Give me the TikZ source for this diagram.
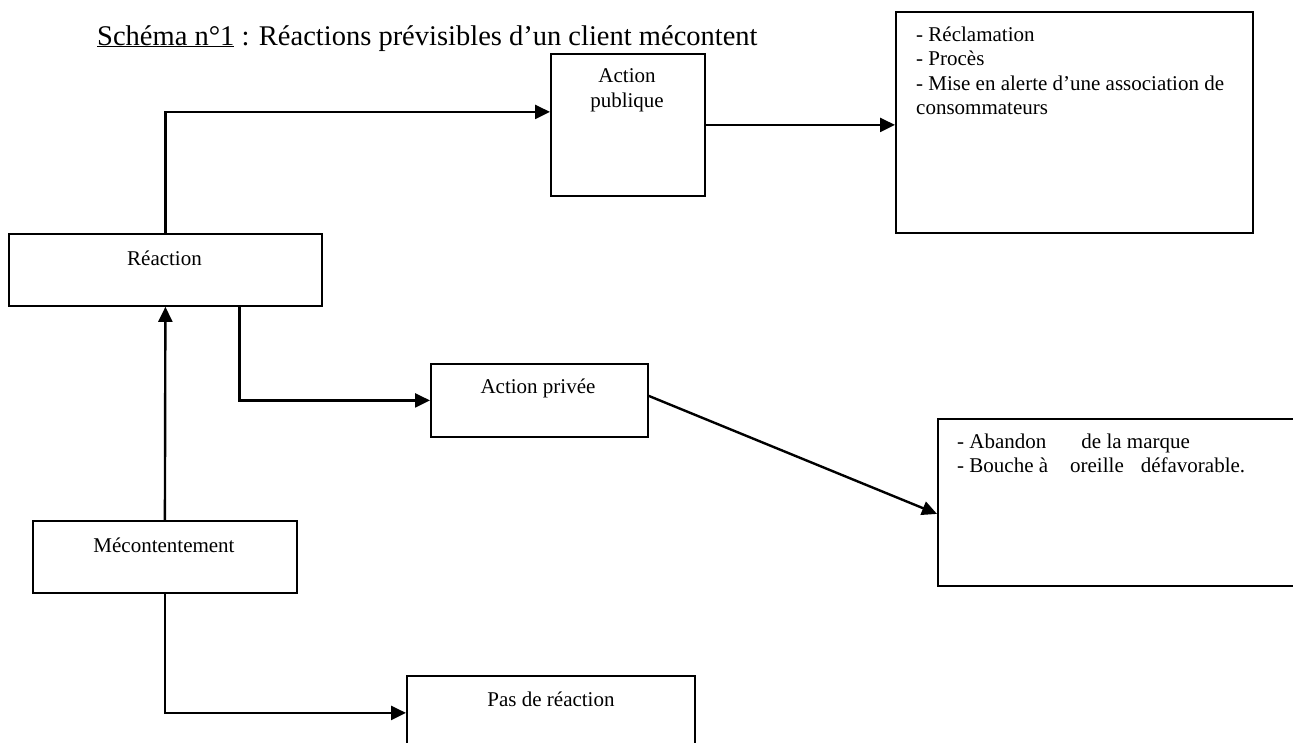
\documentclass[tikz,border=0pt]{standalone}
\usepackage{fontspec}
\setmainfont{Liberation Serif}
\usetikzlibrary{arrows.meta}
\tikzset{
  box/.style={draw, line width=1.8pt, inner sep=0pt, anchor=north west},
  txt/.style={inner sep=0pt, anchor=base, font=\fontsize{21}{25}\selectfont},
  txtl/.style={inner sep=0pt, anchor=base west, font=\fontsize{21}{24.5}\selectfont},
  arr/.style={line width=2.4pt, -{Triangle[length=15pt,width=14pt]}}
}
\begin{document}
\begin{tikzpicture}[x=1pt,y=-1pt]
\useasboundingbox (0,0) rectangle (1293,742);
% title
\node (title) [inner sep=0pt, anchor=base west, font=\fontsize{28.5}{32}\selectfont] at (97,45)
  {\underline{Schéma n°1} : Réactions prévisibles d’un client mécontent};
% boxes
\node (reac)  [box, minimum width=313pt, minimum height=72pt]  at (8,233) {};
\node (mec)   [box, minimum width=264pt, minimum height=72pt]  at (32,520) {};
\node (apub)  [box, minimum width=154pt, minimum height=142pt] at (550,53) {};
\node (apriv) [box, minimum width=217pt, minimum height=73pt]  at (430,363) {};
\node (pas)   [box, minimum width=288pt, minimum height=74pt]  at (406,675) {};
\node (tr)    [box, minimum width=357pt, minimum height=221pt] at (895,11) {};
\node (rm)    [box, minimum width=373pt, minimum height=167pt] at (937,418) {};
% texts
\node (reacT)  [txt] at (164.5,265) {Réaction};
\node (mecT)   [txt] at (164,552) {Mécontentement};
\node (apubT)  [txt] at (627,82) {\begin{tabular}[t]{@{}c@{}}Action\\publique\end{tabular}};
\node (aprivT) [txt] at (538,393) {Action privée};
\node (pasT)   [txt] at (551,706) {Pas de réaction};
\node (trT)    [txtl] at (916,41) {\begin{tabular}[t]{@{}l@{}}- Réclamation\\- Procès\\- Mise en alerte d’une association de\\consommateurs\end{tabular}};
\node (rmT)    [txtl] at (957,448) {\begin{tabular}[t]{@{}l@{}}- Abandon\hspace{35pt}de la marque\\- Bouche à\hspace{22pt}oreille\hspace{17pt}défavorable.\end{tabular}};
% connectors
\draw[arr] (mec.north) -- (reac.south);
\draw[arr] (reac.north) |- ([yshift=13pt]apub.west);
\draw[arr] (apub.east) -- (apub.east -| tr.west);
\draw[arr] ([xshift=74pt]reac.south) |- (apriv.west);
\draw[arr] ([yshift=4.5pt]apriv.east) -- ([yshift=-11.5pt]rm.west);
\draw[arr] (mec.south) |- (pas.west);
\end{tikzpicture}
\end{document}
